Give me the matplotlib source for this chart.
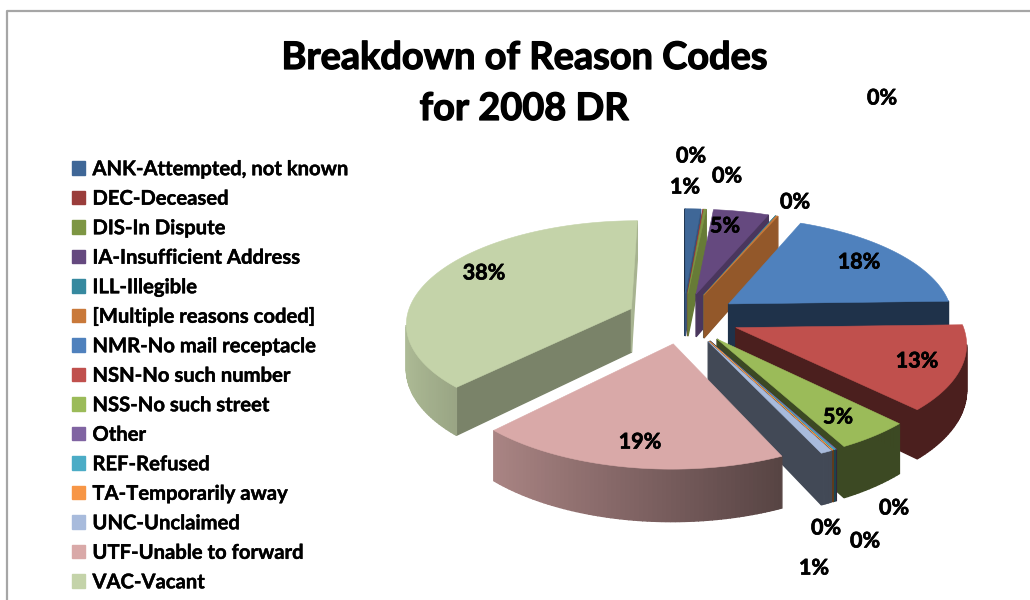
import numpy as np
import matplotlib
matplotlib.use('Agg')
import matplotlib.pyplot as plt
import matplotlib.patheffects as pe
from matplotlib.patches import Patch

categories = ['ANK-Attempted, not known', 'DEC-Deceased', 'DIS-In Dispute',
              'IA-Insufficient Address', 'ILL-Illegible', '[Multiple reasons coded]',
              'NMR-No mail receptacle', 'NSN-No such number', 'NSS-No such street',
              'Other', 'REF-Refused', 'TA-Temporarily away', 'UNC-Unclaimed',
              'UTF-Unable to forward', 'VAC-Vacant']
values = [1.3, 0.05, 0.2, 4.6, 0.05, 0.15, 18.2, 13.1, 4.6, 0.05, 0.15, 0.02, 0.7, 19.0, 37.8]
colors = ['#3f6797', '#9a3d3b', '#7d9643', '#65497f', '#36899f', '#c9793a', '#4f81bd', '#c0504d',
          '#9bbb59', '#8064a2', '#4bacc6', '#f79646', '#a8bbdc', '#d9a9a8', '#c4d3a9']
label_x = [685, 691, 727, 725, 882, 795, 859, 917, 838, 894, 865, 826, 814, 640, 484]
label_y = [187, 156, 176, 226, 98, 202, 262, 361, 417, 508, 541, 528, 568, 442, 273]

# projection of the tilted pie, in pixels
CX, CY = 683, 318
RX, RY = 225, 101.6
PERSP = 0.13
DEPTH = 44
EXPLODE = 0.25


def project(u, v, down=False):
    s = 1 / (1 + PERSP * v)
    return CX + RX * u * s, CY - RY * v * s + (DEPTH * s if down else 0)


def shade(color, f):
    return tuple(c * f for c in matplotlib.colors.to_rgb(color))


def side_shade(theta, is_arc, is_start):
    if is_arc:
        f = 0.545 - 0.345 * np.sin(np.radians(theta))
        return float(np.clip(f, 0.39, 0.88))
    normal = (theta - 90 if is_start else theta + 90) % 360
    return float(np.clip(0.73 - (normal - 113) * 0.0052, 0.39, 0.85))


def draw_wedge(ax, t0, t1, color):
    mid = np.radians((t0 + t1) / 2)
    ox, oy = EXPLODE * np.sin(mid), EXPLODE * np.cos(mid)
    angles = np.linspace(t0, t1, max(3, int(t1 - t0) + 2))
    us = [ox] + [ox + np.sin(np.radians(a)) for a in angles] + [ox]
    vs = [oy] + [oy + np.cos(np.radians(a)) for a in angles] + [oy]
    n = len(us) - 1
    for i in range(n):
        ax_, ay_ = project(us[i], vs[i])
        bx_, by_ = project(us[i + 1], vs[i + 1])
        cx_, cy_ = project(us[i + 1], vs[i + 1], True)
        dx_, dy_ = project(us[i], vs[i], True)
        px, py = [ax_, bx_, cx_, dx_], [ay_, by_, cy_, dy_]
        area = sum(px[k] * py[(k + 1) % 4] - px[(k + 1) % 4] * py[k] for k in range(4))
        if area >= 0:
            continue
        is_start, is_end = i == 0, i == n - 1
        theta = t0 if is_start else t1 if is_end else angles[i - 1]
        c = shade(color, side_shade(theta, not (is_start or is_end), is_start))
        ax.fill(px, py, color=c, lw=1.0)
    tx, ty = project(np.array(us), np.array(vs))
    ax.fill(tx, ty, color=color, lw=0.4)


fig = plt.figure(figsize=(10.3, 6), dpi=100)
ax = fig.add_axes([0, 0, 1, 1])
ax.set_xlim(0, 1030)
ax.set_ylim(600, 0)
ax.axis('off')

# chart frame
ax.plot([7, 7, 1030], [600, 11, 11], color='#a6a6a6', lw=1.6)

# slices, far ones first
ends = np.cumsum(values) / np.sum(values) * 360
starts = np.concatenate([[0], ends[:-1]])
order = sorted(range(len(values)),
               key=lambda i: -np.cos(np.radians((starts[i] + ends[i]) / 2)))
for i in order:
    draw_wedge(ax, starts[i], ends[i], colors[i])

plt.rcParams['font.family'] = ['Lato', 'DejaVu Sans']
thick = [pe.withStroke(linewidth=0.5, foreground='black')]
for v, x, y in zip(values, label_x, label_y):
    ax.text(x, y, '%.0f%%' % v, ha='center', va='center', fontsize=15.5, weight='bold',
            color='black', path_effects=thick)

for line, y in zip(['Breakdown of Reason Codes', 'for 2008 DR'], [58, 109]):
    ax.text(524, y, line, ha='center', va='center', fontsize=27.3, weight='bold',
            color='black', path_effects=[pe.withStroke(linewidth=0.9, foreground='black')])

handles = [Patch(color=c, label=n) for c, n in zip(colors, categories)]
leg = ax.legend(handles=handles, loc='upper left', bbox_to_anchor=(56 / 1030, 1 - 143 / 600),
                frameon=False, prop={'size': 14.57, 'weight': 'bold'}, handlelength=0.65,
                handleheight=0.65, handletextpad=0.35, labelspacing=0.47, borderpad=0.3)
for t in leg.get_texts():
    t.set_path_effects([pe.withStroke(linewidth=0.3, foreground='black')])

fig.savefig('out.png', dpi=100)
